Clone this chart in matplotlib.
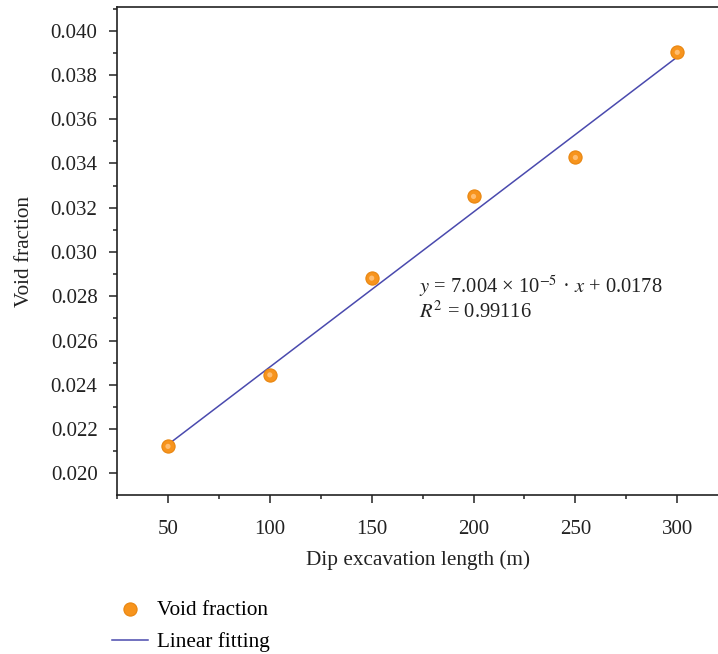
import matplotlib
matplotlib.use("Agg")
import matplotlib.pyplot as plt
import numpy as np
from matplotlib.ticker import MultipleLocator, FormatStrFormatter

plt.rcParams['font.family'] = ['Liberation Serif', 'DejaVu Serif']
plt.rcParams['mathtext.fontset'] = 'stix'

# data
length = [50, 100, 150, 200, 250, 300]
void_frac = [0.02122, 0.02445, 0.02882, 0.03251, 0.03427, 0.03902]
slope = 7.004e-5
intercept = 0.0178
fit_label = r'$y$ = 7.004 × 10$^{-5}$ · $x$ + 0.0178'
r2_label = r'$R^2$ = 0.99116'

fig = plt.figure(figsize=(7.18, 6.54), dpi=100)
ax = fig.add_axes([0.163, 0.243, 0.837, 0.746])

x_fit = np.array([min(length), max(length)])
line, = ax.plot(x_fit, slope * x_fit + intercept, color='#4a4aae', linewidth=1.1,
                label='Linear fitting', zorder=2)
pts = ax.scatter(length, void_frac, s=90, color='#f7941d', edgecolor='#e8850f',
                 linewidth=0.8, label='Void fraction', zorder=3)
# small highlight to mimic the shaded balls
ax.scatter(length, void_frac, s=14, color='#ffbd70', edgecolor='none', zorder=4)

ax.set_xlim(25, 320)
ax.set_ylim(0.01902, 0.04106)
ax.xaxis.set_major_locator(MultipleLocator(50))
ax.xaxis.set_minor_locator(MultipleLocator(25))
ax.yaxis.set_major_locator(MultipleLocator(0.002))
ax.yaxis.set_minor_locator(MultipleLocator(0.001))
ax.yaxis.set_major_formatter(FormatStrFormatter('%.3f'))

ax.spines['right'].set_visible(False)
for s in ['left', 'bottom', 'top']:
    ax.spines[s].set_linewidth(1.2)
    ax.spines[s].set_color('#222222')
ax.tick_params(which='major', direction='out', length=6, width=1.1,
               labelsize=15, colors='#222222', pad=8)
ax.tick_params(which='minor', direction='out', length=3, width=1.1, colors='#222222')
ax.tick_params(axis='x', pad=12)

ax.set_xlabel('Dip excavation length (m)', fontsize=15.3, labelpad=8, color='#222222')
ax.set_ylabel('Void fraction', fontsize=15.3, labelpad=12, color='#222222')

ax.text(173, 0.02846, fit_label, fontsize=14.8, va='center', color='#222222')
ax.text(173, 0.02729, r2_label, fontsize=14.8, va='center', color='#222222')

fig.legend(handles=[pts, line], loc='upper left', bbox_to_anchor=(0.144, 0.096),
           frameon=False, fontsize=15.3, handlelength=1.7, handletextpad=0.4,
           labelspacing=0.6, borderaxespad=0)

fig.savefig('out.png', dpi=100)
